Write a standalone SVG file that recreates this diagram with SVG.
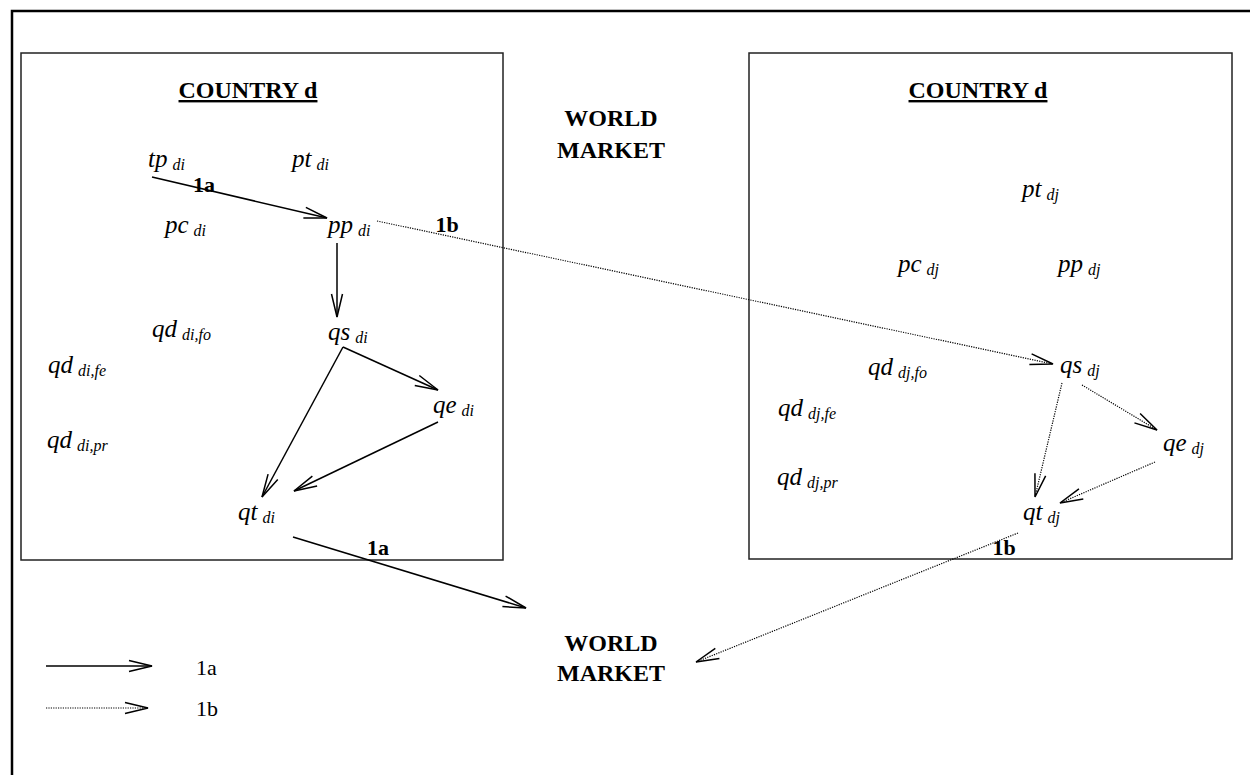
<svg xmlns="http://www.w3.org/2000/svg" width="1250" height="775" viewBox="0 0 1250 775">
<style>
.v{font-family:"Liberation Serif","Times New Roman",serif;font-style:italic;font-size:25px;fill:#000}
.s{font-size:16px}
.b{font-family:"Liberation Serif","Times New Roman",serif;font-weight:bold;font-size:24px;fill:#000}
.lb{font-family:"Liberation Serif","Times New Roman",serif;font-weight:bold;font-size:22px;fill:#000}
.lg{font-family:"Liberation Serif","Times New Roman",serif;font-size:22px;fill:#000}
.box{fill:none;stroke:#222;stroke-width:1.5}
.solid{fill:none;stroke:#000;stroke-width:1.5}
.dot{fill:none;stroke:#000;stroke-width:1.2;stroke-dasharray:1.2 1.2}
</style>
<defs>
<marker id="ah" markerUnits="userSpaceOnUse" markerWidth="30" markerHeight="16" viewBox="-24 -8 26 16" refX="0" refY="0" orient="auto">
<path d="M-23,-5.5 L0,0 L-23,5.5" fill="none" stroke="#000" stroke-width="1.5"/>
</marker>
</defs>
<rect width="1250" height="775" fill="#fff"/>
<rect x="12" y="11" width="1260" height="800" fill="none" stroke="#000" stroke-width="2.5"/>
<g id="country-left">
<rect class="box" x="21" y="53" width="482" height="507"/>
<text class="b" x="248" y="98" text-anchor="middle" text-decoration="underline">COUNTRY d</text>
</g>
<g id="country-right">
<rect class="box" x="749" y="53" width="483" height="506"/>
<text class="b" x="978" y="98" text-anchor="middle" text-decoration="underline">COUNTRY d</text>
</g>
<g id="world-market-top">
<text class="b" x="611" y="126" text-anchor="middle">WORLD</text>
<text class="b" x="611" y="158" text-anchor="middle">MARKET</text>
</g>
<g id="world-market-bottom">
<text class="b" x="611" y="651" text-anchor="middle">WORLD</text>
<text class="b" x="611" y="681" text-anchor="middle">MARKET</text>
</g>
<g id="n-tp-di"><text class="v" x="148" y="167">tp<tspan class="s" dx="5" dy="3">di</tspan></text></g>
<g id="n-pt-di"><text class="v" x="292" y="167">pt<tspan class="s" dx="5" dy="3">di</tspan></text></g>
<g id="n-pc-di"><text class="v" x="165" y="233">pc<tspan class="s" dx="5" dy="3">di</tspan></text></g>
<g id="n-pp-di"><text class="v" x="328" y="233">pp<tspan class="s" dx="5" dy="3">di</tspan></text></g>
<g id="n-qd-di-fo"><text class="v" x="152" y="337">qd<tspan class="s" dx="5" dy="3">di,fo</tspan></text></g>
<g id="n-qs-di"><text class="v" x="328" y="340">qs<tspan class="s" dx="5" dy="3">di</tspan></text></g>
<g id="n-qd-di-fe"><text class="v" x="48" y="373">qd<tspan class="s" dx="5" dy="3">di,fe</tspan></text></g>
<g id="n-qe-di"><text class="v" x="433" y="413">qe<tspan class="s" dx="5" dy="3">di</tspan></text></g>
<g id="n-qd-di-pr"><text class="v" x="47" y="448">qd<tspan class="s" dx="5" dy="3">di,pr</tspan></text></g>
<g id="n-qt-di"><text class="v" x="238" y="520">qt<tspan class="s" dx="5" dy="3">di</tspan></text></g>
<g id="n-pt-dj"><text class="v" x="1022" y="197">pt<tspan class="s" dx="5" dy="3">dj</tspan></text></g>
<g id="n-pc-dj"><text class="v" x="898" y="272">pc<tspan class="s" dx="5" dy="3">dj</tspan></text></g>
<g id="n-pp-dj"><text class="v" x="1058" y="272">pp<tspan class="s" dx="5" dy="3">dj</tspan></text></g>
<g id="n-qd-dj-fo"><text class="v" x="868" y="375">qd<tspan class="s" dx="5" dy="3">dj,fo</tspan></text></g>
<g id="n-qs-dj"><text class="v" x="1060" y="373">qs<tspan class="s" dx="5" dy="3">dj</tspan></text></g>
<g id="n-qd-dj-fe"><text class="v" x="778" y="416">qd<tspan class="s" dx="5" dy="3">dj,fe</tspan></text></g>
<g id="n-qe-dj"><text class="v" x="1163" y="451">qe<tspan class="s" dx="5" dy="3">dj</tspan></text></g>
<g id="n-qd-dj-pr"><text class="v" x="777" y="485">qd<tspan class="s" dx="5" dy="3">dj,pr</tspan></text></g>
<g id="n-qt-dj"><text class="v" x="1023" y="520">qt<tspan class="s" dx="5" dy="3">dj</tspan></text></g>
<g id="connectors">
<line class="solid" x1="152" y1="177" x2="327" y2="218" marker-end="url(#ah)"/>
<line class="solid" x1="337" y1="243" x2="337" y2="317" marker-end="url(#ah)"/>
<line class="solid" x1="343" y1="347" x2="438" y2="390" marker-end="url(#ah)"/>
<line class="solid" x1="343" y1="347" x2="262" y2="497" marker-end="url(#ah)"/>
<line class="solid" x1="438" y1="422" x2="294" y2="491" marker-end="url(#ah)"/>
<line class="solid" x1="293" y1="537" x2="526" y2="608" marker-end="url(#ah)"/>
<line class="dot" x1="377" y1="221" x2="1053" y2="364" marker-end="url(#ah)"/>
<line class="dot" x1="1082" y1="385" x2="1157" y2="430" marker-end="url(#ah)"/>
<line class="dot" x1="1062" y1="383" x2="1035" y2="497" marker-end="url(#ah)"/>
<line class="dot" x1="1155" y1="462" x2="1060" y2="503" marker-end="url(#ah)"/>
<line class="dot" x1="1018" y1="533" x2="696" y2="662" marker-end="url(#ah)"/>
<text class="lb" x="204" y="192" text-anchor="middle">1a</text>
<text class="lb" x="378" y="555" text-anchor="middle">1a</text>
<text class="lb" x="447" y="232" text-anchor="middle">1b</text>
<text class="lb" x="1004" y="555" text-anchor="middle">1b</text>
</g>
<g id="legend">
<line class="solid" x1="46" y1="666" x2="152" y2="666" marker-end="url(#ah)"/>
<text class="lg" x="196" y="675">1a</text>
<line class="dot" x1="46" y1="708" x2="148" y2="708" marker-end="url(#ah)"/>
<text class="lg" x="196" y="716">1b</text>
</g>
</svg>
